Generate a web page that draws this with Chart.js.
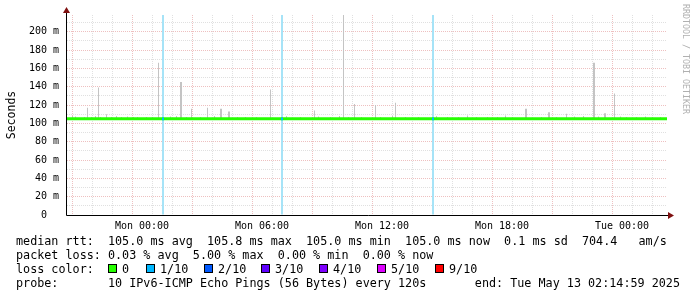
<!DOCTYPE html>
<html>
<head>
<meta charset="utf-8">
<script src="https://cdn.jsdelivr.net/npm/chart.js@4.4.1/dist/chart.umd.min.js"></script>
<style>
  body { margin: 0; background: #fff; }
  #wrap { position: relative; width: 697px; height: 297px; font-family: "DejaVu Sans Mono", monospace; color: #000; }
  #wrap canvas { position: absolute; left: 0; top: 0; }
  .line { position: absolute; left: 16px; font-size: 11.75px; line-height: 14px; white-space: pre; }
  .box { position: absolute; width: 7px; height: 7px; border: 1px solid #000; }
  .lbl { position: absolute; font-size: 11.75px; line-height: 14px; white-space: pre; }
  #stamp { position: absolute; left: 681px; top: 4px; writing-mode: vertical-rl; font-size: 8.3px; color: #b0b0b0; white-space: pre; }
</style>
</head>
<body>
<div id="wrap">
  <canvas id="smokeChart" width="697" height="297"></canvas>
  <div id="stamp">RRDTOOL / TOBI OETIKER</div>
  <div class="line" style="top:234px">median rtt:  105.0 ms avg  105.8 ms max  105.0 ms min  105.0 ms now  0.1 ms sd  704.4   am/s</div>
  <div class="line" style="top:248px">packet loss: 0.03 % avg  5.00 % max  0.00 % min  0.00 % now</div>
  <div class="line" style="top:262px">loss color:</div>
  <div id="lossLegend"></div>
  <div class="line" style="top:276px">probe:       10 IPv6-ICMP Echo Pings (56 Bytes) every 120s</div>
  <div class="line" style="top:276px; left:auto; right:17px">end: Tue May 13 02:14:59 2025</div>
</div>
<script>
// time axis in hours since Sun 00:00, graph runs Sun 20:15 -> Tue 02:15
var startHour = 20.25;
var endHour = 50.25;
var labelHours = [24, 30, 36, 42, 48];
var labelTexts = ['Mon 00:00', 'Mon 06:00', 'Mon 12:00', 'Mon 18:00', 'Tue 00:00'];

// y axis in ms
var yMax = 218.2;

// median rtt (ms)
var medianHours = [20.25, 50.25];
var medianValues = [105, 105];

// smoke spikes, 1 px wide (hour, max rtt ms)
var smokeHours = [
  20.525, 20.675, 21.125, 21.275, 21.475, 21.675, 21.825, 21.925, 22.225, 22.475,
  22.725, 22.975, 23.275, 23.575, 23.775, 24.225, 24.525, 24.825, 25.425, 25.725,
  26.225, 26.475, 26.925, 27.275, 27.625, 28.775, 29.175, 29.725, 30.425, 31.225,
  31.925, 32.625, 32.825, 33.425, 33.875, 34.075, 34.325, 34.625, 34.975, 35.675,
  35.925, 36.525, 36.675, 37.175, 37.825, 38.725, 39.275, 39.825, 40.275, 40.725,
  41.275, 41.775, 42.175, 42.525, 43.975, 44.725, 45.225, 45.625, 46.075, 46.825,
  47.625, 47.925, 48.225, 48.725, 49.175, 49.525, 49.925
];
var smokeTops = [
  108, 107.5, 107, 117, 107, 108, 139, 107, 110, 107,
  108, 107, 107.5, 107, 107, 107, 107, 166, 107.5, 108,
  107, 116, 107, 117, 108, 107, 107, 107, 137, 108,
  107, 114, 107.5, 107, 108, 218.2, 107, 121, 107, 120,
  107, 108, 122.5, 107, 107, 108, 107, 107, 108.5, 107,
  107, 107, 108.5, 107, 107, 107, 110.5, 107.5, 108, 107.5,
  132.5, 107.5, 107, 107, 107.5, 107, 107
];

// smoke spikes, 2 px wide
var wideHours = [25.95, 27.95, 28.35, 43.2, 44.35, 46.6, 47.15];
var wideTops = [145, 116, 113, 116, 112, 166, 111];

// samples with 1/10 packet loss
var lossHours = [25.05, 31.0, 38.55];

// loss colour legend
var lossLabels = ['0', '1/10', '2/10', '3/10', '4/10', '5/10', '9/10'];
var lossColors = ['#26ff00', '#00b8ff', '#0059ff', '#5e00ff', '#7e00ff', '#dd00ff', '#ff0000'];
var lossBoxX = [108, 146, 204, 261, 319, 377, 435];

var smokeBase = 105;

// build the loss colour legend
var legendEl = document.getElementById('lossLegend');
lossLabels.forEach(function(label, i) {
    var box = document.createElement('div');
    box.className = 'box';
    box.style.left = lossBoxX[i] + 'px';
    box.style.top = '264px';
    box.style.background = lossColors[i];
    legendEl.appendChild(box);
    var txt = document.createElement('div');
    txt.className = 'lbl';
    txt.style.left = (lossBoxX[i] + 14) + 'px';
    txt.style.top = '262px';
    txt.textContent = label;
    legendEl.appendChild(txt);
});

// rrdtool style axes with arrows
var axisPlugin = {
    id: 'rrdAxes',
    afterDatasetsDraw: function(chart) {
        var ctx = chart.ctx;
        var a = chart.chartArea;
        ctx.save();
        ctx.strokeStyle = '#000';
        ctx.lineWidth = 1;
        ctx.beginPath();
        ctx.moveTo(a.left - 0.5, a.bottom + 0.5);
        ctx.lineTo(a.right + 3, a.bottom + 0.5);
        ctx.moveTo(a.left - 0.5, a.bottom + 0.5);
        ctx.lineTo(a.left - 0.5, a.top - 4);
        ctx.stroke();
        ctx.fillStyle = '#7f1010';
        ctx.beginPath();
        ctx.moveTo(a.right + 1, a.bottom - 3);
        ctx.lineTo(a.right + 7, a.bottom + 0.5);
        ctx.lineTo(a.right + 1, a.bottom + 4);
        ctx.closePath();
        ctx.fill();
        ctx.beginPath();
        ctx.moveTo(a.left - 4, a.top - 2);
        ctx.lineTo(a.left - 0.5, a.top - 8);
        ctx.lineTo(a.left + 3, a.top - 2);
        ctx.closePath();
        ctx.fill();
        ctx.restore();
    }
};

var monoFont = { family: '"DejaVu Sans Mono", monospace', size: 10 };

new Chart(document.getElementById('smokeChart').getContext('2d'), {
    type: 'bar',
    data: {
        datasets: [{
            type: 'bar',
            label: 'loss',
            data: lossHours.map(function(h) { return { x: h, y: [0, yMax] }; }),
            backgroundColor: '#a6e3f7',
            barThickness: 2,
            grouped: false,
            inflateAmount: 0,
            order: 5
        }, {
            type: 'bar',
            label: 'smoke',
            data: smokeHours.map(function(h, i) { return { x: h, y: [smokeBase, smokeTops[i]] }; }),
            backgroundColor: '#c4c4c4',
            barThickness: 1,
            grouped: false,
            inflateAmount: 0,
            order: 4
        }, {
            type: 'bar',
            label: 'smoke wide',
            data: wideHours.map(function(h, i) { return { x: h, y: [smokeBase, wideTops[i]] }; }),
            backgroundColor: '#c4c4c4',
            barThickness: 2,
            grouped: false,
            inflateAmount: 0,
            order: 3
        }, {
            type: 'line',
            label: 'median rtt',
            data: medianHours.map(function(h, i) { return { x: h, y: medianValues[i] }; }),
            borderColor: '#26ff00',
            borderWidth: 3,
            pointRadius: 0,
            order: 2
        }, {
            type: 'bar',
            label: 'loss median',
            data: lossHours.map(function(h) { return { x: h, y: [103.5, 106.5] }; }),
            backgroundColor: '#00b8ff',
            barThickness: 2,
            grouped: false,
            inflateAmount: 0,
            order: 1
        }]
    },
    options: {
        responsive: false,
        animation: false,
        devicePixelRatio: 1,
        layout: { padding: { top: 15, right: 30, bottom: 0, left: 0 } },
        plugins: {
            legend: { display: false },
            tooltip: { enabled: false }
        },
        scales: {
            x: {
                type: 'linear',
                min: startHour,
                max: endHour,
                offset: false,
                afterFit: function(scale) { scale.height = 82; },
                afterBuildTicks: function(scale) {
                    var ticks = [];
                    for (var h = Math.ceil(startHour); h <= endHour; h++) ticks.push({ value: h });
                    scale.ticks = ticks;
                },
                grid: {
                    drawTicks: false,
                    lineWidth: 1,
                    color: function(c) {
                        return c.tick && c.tick.value % 3 === 0 ? '#eec0c0' : '#e0e0e0';
                    }
                },
                border: { display: false, dash: [1, 1] },
                ticks: {
                    autoSkip: false,
                    maxRotation: 0,
                    padding: 5,
                    color: '#000',
                    font: monoFont,
                    callback: function(v) {
                        var i = labelHours.indexOf(v);
                        return i >= 0 ? labelTexts[i] : '';
                    }
                }
            },
            y: {
                min: 0,
                max: yMax,
                afterFit: function(scale) { scale.width = 67; },
                afterBuildTicks: function(scale) {
                    var ticks = [];
                    for (var v = 0; v <= yMax; v += 10) ticks.push({ value: v });
                    scale.ticks = ticks;
                },
                grid: {
                    drawTicks: false,
                    lineWidth: 1,
                    color: function(c) {
                        return c.tick && c.tick.value % 20 === 0 ? '#eec0c0' : '#e0e0e0';
                    }
                },
                border: { display: false, dash: [1, 1] },
                title: {
                    display: true,
                    text: 'Seconds',
                    color: '#000',
                    font: { family: '"DejaVu Sans Mono", monospace', size: 11.5 },
                    padding: { top: 5, bottom: 0 }
                },
                ticks: {
                    autoSkip: false,
                    padding: 8,
                    color: '#000',
                    font: monoFont,
                    callback: function(v) {
                        if (v % 20 !== 0) return '';
                        return v === 0 ? '0  ' : v + ' m';
                    }
                }
            }
        }
    },
    plugins: [axisPlugin]
});
</script>
</body>
</html>
